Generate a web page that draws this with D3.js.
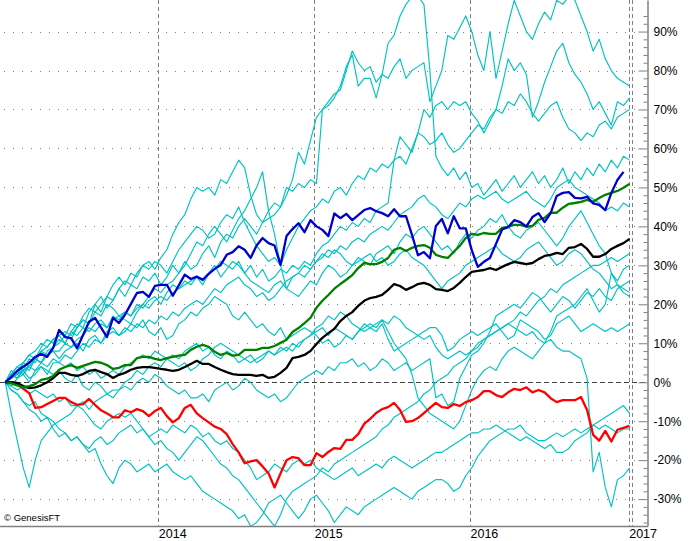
<!DOCTYPE html>
<html><head><meta charset="utf-8">
<script src="https://cdn.jsdelivr.net/npm/d3@7"></script>
<style>body{margin:0;background:#fff;} svg text{font-family:"Liberation Sans",Arial,sans-serif;}</style>
</head><body><svg id="c" width="693" height="541"></svg>
<script>
// ---------- DATA (percent change since start, biweekly samples) ----------
const startDate = new Date(2013, 0, 8);
const yearBounds = [new Date(2013,0,1), new Date(2014,0,1), new Date(2015,0,1), new Date(2016,0,1), new Date(2017,0,1)];
const yearLabels = ["2014","2015","2016","2017"];
const lastDataDate = new Date(2017,0,9);
const yMajorTicks = [-30,-20,-10,0,10,20,30,40,50,60,70,80,90];

const blueSeries = [0,1.3,2.9,4.0,5.0,6.5,7.3,6.5,8.8,13.4, 11.6,11.3,8.7,12.1,15.5,16.5,14.0,11.6,16.5,15.2,
 17.3,20.1,22.9,23.2,21.9,24.7,25.0,25.0,22.2,24.9, 27.6,26.5,27.1,26.3,27.8,29.1,30.1,32.7,33.4,34.9,
 34.0,31.9,35.1,37.0,35.7,35.1,30.1,37.5,39.3,40.8, 38.5,41.6,40.0,39.1,37.5,43.3,42.1,43.2,41.6,42.9,
 44.2,44.7,43.9,43.4,42.6,44.4,42.6,42.6,37.8,32.6, 33.4,31.8,40.1,41.9,38.2,42.6,39.5,39.5,33.9,29.6,
 30.9,31.9,35.5,39.2,39.8,41.6,41.1,40.0,42.4,43.4, 41.1,43.4,47.8,48.6,48.8,47.3,47.2,47.6,45.9,45.5,
 44.2,48.6,51.9,54.0];
const greenSeries = [0,-0.3,-0.8,-1.3,-1.0,-0.5,0.6,0.9,1.6,3.2, 3.9,4.4,3.7,4.2,4.7,5.2,5.0,4.4,3.4,3.7,
 4.4,4.4,6.2,6.5,6.5,6.0,5.7,6.2,6.5,6.8, 7.0,8.3,9.1,9.6,9.1,7.8,7.0,7.5,6.8,7.0,
 8.3,8.3,8.3,8.8,8.8,9.3,10.1,10.9,12.9,13.9, 15.2,16.5,19.1,20.9,22.4,24.0,25.2,26.3,27.5,29.3,
 30.6,30.3,30.3,30.9,31.9,34.0,34.5,33.7,34.5,35.0, 35.2,34.5,32.7,32.2,31.9,33.5,35.0,37.0,38.1,37.8,
 38.3,38.1,38.1,39.6,39.9,40.4,40.4,39.9,40.1,41.7, 42.2,43.5,43.5,44.8,45.8,46.0,46.3,46.8,46.3,47.3,
 48.1,48.6,49.1,49.9,50.9];
const blackSeries = [0,0,-0.2,-1.0,-1.5,-1.3,-0.8,0,1.1,2.4, 2.4,1.9,1.6,2.1,2.9,3.2,2.6,2.1,1.1,1.9,
 2.4,3.2,3.7,3.9,3.9,3.7,3.4,3.2,2.9,3.2, 3.9,4.7,5.5,4.7,4.7,3.9,3.2,2.6,2.1,1.9,
 1.9,1.9,1.6,1.9,1.1,1.4,2.4,3.7,6.2,6.5, 7.0,8.0,9.8,11.4,12.6,13.7,15.7,17.0,18.0,19.6,
 20.9,21.6,21.9,22.4,23.7,25.2,24.7,23.7,24.4,25.2, 25.5,25.0,23.9,23.7,23.4,24.2,25.5,27.0,28.3,28.6,
 28.8,29.3,28.8,29.6,30.3,30.9,30.6,30.3,30.6,31.6, 32.4,32.7,33.2,32.9,34.5,34.7,35.5,34.2,32.2,32.2,
 32.9,34.2,35.0,35.7,36.8];
const redSeries = [0,0,-0.3,-1.7,-2.8,-6.6,-6.4,-5.6,-4.8,-4.0, -4.0,-5.1,-5.8,-5.6,-4.3,-5.8,-7.2,-8.0,-9.0,-9.0,
 -7.2,-7.7,-6.9,-7.4,-8.7,-7.4,-6.6,-8.7,-10.3,-9.2, -6.6,-5.8,-8.0,-9.2,-10.3,-11.4,-12.0,-13.3,-15.9,-18.0,
 -20.8,-20.3,-20.0,-21.6,-23.4,-27.0,-23.4,-20.0,-19.2,-19.5, -21.3,-21.3,-18.2,-19.2,-17.9,-16.9,-17.1,-14.8,-14.8,-13.3,
 -10.7,-9.4,-7.9,-6.9,-6.4,-5.3,-7.1,-10.2,-10.0,-9.2, -7.9,-6.6,-5.3,-6.4,-6.6,-5.6,-6.1,-5.1,-4.6,-3.8,
 -2.3,-2.3,-3.3,-3.8,-2.6,-1.7,-2.0,-1.3,-2.6,-2.0, -2.6,-4.1,-5.1,-4.6,-4.6,-4.6,-3.8,-7.1,-13.5,-15.0,
 -12.5,-15.2,-12.2,-11.7,-11.2];

const cyan1 = [0,1,3,2,5,6,5,8,9,10, 12,11,14,16,15,20,18,22,25,27, 25,28,27,30,31,29,32,34,38,41,
 43,47,50,49,50,48,52,51,54,57, 55,48,43,41,42,43,45,48,52,59, 56,62,68,70,71,73,76,81,84,76,
 78,78,73,79,87,89,94,97,99,99, 97,80,58,55,53,55,52,54,50,51, 48,50,52,49,51,53,50,52,54,51,
 53,50,52,55,51,54,52,55,53,56, 54,57,55,58,57];
const cyan2 = [0,2,1,4,3,6,8,7,9,11, 10,13,15,14,18,20,22,19,21,24, 22,25,24,27,26,28,25,27,30,28,
 31,29,30,33,35,32,36,38,37,40, 42,40,38,41,44,46,45,50,49,51, 50,52,51,70,72,74,75,80,85,82,
 80,81,77,79,78,81,83,78,80,81, 82,72,76,80,89,88,91,94,90,84, 80,90,78,85,92,98,94,90,88,92,
 95,93,98,97,99,98,94,90,85,88, 83,80,78,77,76];
const cyan3 = [0,2,4,3,6,5,8,9,11,12, 10,13,12,14,13,15,16,14,17,16, 18,17,20,19,21,22,20,23,25,24,
 26,25,27,26,28,30,27,29,31,30, 28,30,27,29,26,27,29,28,30,29, 31,30,33,35,36,38,40,39,41,40,
 42,41,44,45,46,57,63,61,59,64, 70,68,71,72,70,72,71,72,69,67, 64,67,70,76,83,80,82,79,68,72,
 77,81,85,87,82,79,77,74,70,72, 69,66,72,71,73];
const cyan4 = [0,3,2,5,7,6,9,11,10,13, 12,15,14,17,19,18,20,22,21,24, 26,25,28,30,29,31,30,28,31,34,
 36,38,40,39,37,38,41,43,42,45, 41,38,35,33,31,32,30,34,37,40, 42,44,45,47,46,49,50,48,51,53,
 52,55,54,56,55,57,58,56,60,64, 63,61,62,64,61,59,60,62,64,66, 65,68,70,69,72,71,74,72,69,67,
 69,71,72,68,65,64,62,64,63,66, 67,65,68,69,70];
const cyan5 = [0,-1,1,2,0,3,4,2,5,5, 7,6,8,10,9,11,10,12,13,12, 14,13,15,14,16,15,17,16,18,17,
 19,20,21,20,22,24,23,25,26,27, 25,24,22,23,21,22,24,26,27,28, 30,29,31,32,34,33,35,34,36,37,
 36,38,39,40,39,41,43,44,45,47, 48,46,45,43,42,44,46,45,47,48, 47,48,49,47,46,47,48,49,47,46,
 45,47,50,51,52,50,49,48,47,46, 44,45,44,46,45];
const cyan6 = [0,2,1,3,4,6,5,7,8,8, 10,9,11,12,14,13,15,14,16,17, 18,17,19,20,19,21,22,21,23,24,
 25,26,27,25,28,29,31,30,29,31, 28,26,25,24,23,25,26,24,27,28, 27,29,31,33,32,34,33,31,30,32,
 31,30,33,34,35,33,36,38,37,39, 40,38,36,34,35,33,36,38,37,39, 40,42,41,43,40,38,37,39,40,41,
 39,37,35,37,40,42,44,41,38,35, 33,28,26,29,30];
const cyan7 = [0,-1,-2,-1,-3,-2,-3,-4,-3,-5, -4,-6,-6,-5,-7,-5,-4,-3,-4,-2, -1,-2,0,1,0,2,1,-1,-2,-3,
 -2,-4,-4,-3,-5,-2,-1,0,-2,-1, 1,0,-2,-3,-4,-3,-5,-4,-2,0, 1,2,3,2,4,3,5,5,6,4,
 5,3,4,6,5,3,4,5,3,4, 5,6,-4,-3,-6,-5,1,4,7,8, 10,13,17,18,19,20,19,21,23,22,
 20,18,20,22,21,19,21,23,22,24, 22,21,24,25,26];
const cyan8 = [0,1,2,3,1,2,4,3,2,3, 1,0,2,-1,-2,0,-1,-3,-2,-2, 0,1,3,2,4,5,4,6,7,6,
 8,9,10,8,9,7,6,8,7,5, 6,7,5,6,8,7,9,8,10,9, 11,12,13,14,12,14,13,12,11,13,
 14,15,14,16,13,10,8,6,2,-4, -6,-8,-9,-10,-11,-12,-10,-6,-2,1, 3,4,3,6,8,9,8,7,6,8,
 10,13,17,18,19,20,22,24,21,18, 20,28,25,23,22];
const cyan9 = [0,2,3,5,4,6,5,7,8,6, 8,9,10,8,11,12,10,13,14,12, 13,15,14,16,13,12,14,11,12,15,
 16,18,17,19,20,22,21,20,17,16, 18,16,14,15,13,12,14,11,12,13, 14,13,12,10,11,9,10,12,11,13,
 15,14,13,15,11,8,9,10,11,12, 13,14,14,12,8,9,11,12,13,12, 13,14,15,13,11,12,16,15,14,13,
 11,12,15,16,17,15,13,14,15,14, 13,14,13,14,15];
const cyan10 = [0,-2,-3,-5,-7,-8,-10,-9,-12,-14, -13,-15,-14,-16,-17,-15,-14,-16,-15,-13, -12,-11,-13,-12,-14,-13,-12,-13,-11,-12,
 -13,-11,-12,-14,-13,-15,-16,-15,-17,-18, -20,-22,-25,-24,-23,-21,-22,-23,-21,-20, -21,-20,-22,-23,-24,-25,-24,-23,-22,-24,
 -23,-22,-21,-22,-20,-19,-20,-21,-22,-21, -20,-19,-18,-18,-17,-16,-15,-14,-13,-13, -12,-12,-11,-12,-13,-14,-15,-14,-15,-16,
 -17,-16,-18,-18,-17,-15,-14,-13,-11,-10, -9,-8,-7,-6,-8];
const cyan11 = [0,-2,-3,-5,-6,-5,-8,-9,-10,-12, -13,-15,-14,-16,-18,-17,-21,-24,-26,-22, -20,-21,-23,-22,-21,-23,-22,-21,-23,-24,
 -25,-24,-26,-28,-29,-30,-31,-32,-33,-35, -34,-37,-36,-34,-31,-30,-29,-31,-33,-35, -33,-30,-29,-31,-33,-36,-34,-32,-33,-34,
 -32,-31,-30,-29,-28,-27,-28,-29,-30,-28, -27,-26,-25,-25,-26,-28,-27,-24,-22,-19, -17,-15,-14,-13,-12,-12,-11,-13,-14,-15,
 -15,-14,-13,-14,-13,-12,-13,-12,-11,-12, -11,-12,-13,-12,-12];
const cyan12 = [0,1,3,2,4,3,5,4,6,5, 4,5,3,4,2,3,1,2,3,2, 4,5,6,7,6,8,7,6,5,4,
 5,3,4,6,7,9,10,9,8,7, 6,5,6,7,8,7,8,9,8,10, 11,12,14,15,17,16,18,17,15,14,
 13,14,15,16,15,17,16,14,13,12, 11,12,9,7,6,7,8,7,8,10, 11,12,13,14,15,14,13,12,13,11,
 10,11,9,8,8,7,6,1,-23,-18, -27,-32,-25,-24,-22];
const cyan13 = [0,2,4,5,7,8,10,9,11,12, 13,12,14,16,15,18,17,20,19,17, 16,15,18,20,22,24,23,25,26,28,
 30,33,36,35,38,40,38,36,39,42, 44,47,50,54,44,38,30,24,23,22, 24,26,25,28,30,29,27,28,30,31,
 32,33,31,32,30,31,33,34,32,31, 30,28,26,24,26,27,28,30,31,32, 33,34,35,33,32,31,32,34,35,36,
 34,32,30,31,33,34,33,31,29,28, 26,24,25,24,23];
const cyan14 = [0,-8,-15,-22,-27,-20,-15,-13,-11,-10, -9,-8,-6,-7,-9,-11,-12,-10,-9,-8, -9,-8,-10,-12,-14,-16,-15,-17,-18,-20,
 -18,-16,-14,-15,-17,-19,-21,-22,-24,-25, -27,-29,-31,-33,-35,-37,-34,-30,-28,-27, -26,-25,-24,-22,-23,-21,-20,-19,-18,-17,
 -16,-15,-14,-12,-11,-9,-8,-7,-6,-5, -3,-2,0,1,2,4,5,6,8,9, 11,12,13,14,15,16,18,17,19,21,
 22,24,23,25,26,27,28,29,30,30, 31,32,31,32,33];

const cyanList = [cyan1,cyan2,cyan3,cyan4,cyan5,cyan6,cyan7,cyan8,cyan9,cyan10,cyan11,cyan12,cyan13,cyan14];
const mainList = [
  {values: redSeries, color: "#FF0000"},
  {values: blackSeries, color: "#000000"},
  {values: greenSeries, color: "#008000"},
  {values: blueSeries, color: "#0000CC"}
];

// ---------- CHART ----------
const dates = d3.range(105).map(i => d3.timeDay.offset(startDate, 14 * i));
const svg = d3.select("#c");
const axisX = 647, axisY = 526;

const x = d3.scaleTime().domain(yearBounds).range([2.3, 158.3, 314.3, 470, 628.7]);
const y = d3.scaleLinear().domain([-36.9, 98.1]).range([axisY, 0]);

svg.append("rect").attr("width",693).attr("height",541).attr("fill","#fff");
svg.append("clipPath").attr("id","clip").append("rect").attr("x",0).attr("y",0).attr("width",axisX).attr("height",axisY);

// horizontal dotted grid
svg.append("g").selectAll("line").data(yMajorTicks.filter(d => d !== 0)).join("line")
  .attr("x1", 4).attr("x2", axisX - 9)
  .attr("y1", d => Math.round(y(d)) + 0.5).attr("y2", d => Math.round(y(d)) + 0.5)
  .attr("stroke", "#808080").attr("stroke-width", 1).attr("stroke-dasharray", "1,8");

// vertical dashed year lines
const vLines = yearBounds.slice(1).concat([lastDataDate]);
svg.append("g").selectAll("line").data(vLines).join("line")
  .attr("x1", d => Math.round(x(d)) + 0.5).attr("x2", d => Math.round(x(d)) + 0.5)
  .attr("y1", 0).attr("y2", axisY)
  .attr("stroke", "#808080").attr("stroke-width", 1).attr("stroke-dasharray", "4,3");

// zero line
svg.append("line").attr("x1", 0).attr("x2", axisX).attr("y1", Math.round(y(0)) + 0.5).attr("y2", Math.round(y(0)) + 0.5)
  .attr("stroke", "#404040").attr("stroke-width", 1).attr("stroke-dasharray", "5,3");

const line = d3.line().x((d, i) => x(dates[i])).y(d => y(d));
const plot = svg.append("g").attr("clip-path", "url(#clip)");
plot.selectAll("path.cy").data(cyanList).join("path").attr("class","cy")
  .attr("d", d => line(d)).attr("fill", "none").attr("stroke", "#00C2C2").attr("stroke-width", 1.15)
  .attr("stroke-linejoin","round");
plot.selectAll("path.mn").data(mainList).join("path").attr("class","mn")
  .attr("d", d => line(d.values)).attr("fill", "none").attr("stroke", d => d.color).attr("stroke-width", 2.3)
  .attr("stroke-linejoin","round");

// right axis
const minorTicks = d3.range(-36, 95, 2).filter(v => v % 10 !== 0);
svg.append("g").attr("transform", `translate(${axisX + 0.5},0)`)
  .call(d3.axisRight(y).tickValues(minorTicks).tickSizeInner(-4).tickSizeOuter(0).tickFormat(""))
  .call(g => g.select(".domain").remove())
  .call(g => g.selectAll("line").attr("stroke", "#808080"));
svg.append("g").attr("transform", `translate(${axisX + 0.5},0)`)
  .call(d3.axisRight(y).tickValues(yMajorTicks).tickSizeInner(-9).tickSizeOuter(0).tickPadding(6).tickFormat(d => d + "%"))
  .call(g => g.select(".domain").attr("stroke", "#808080").attr("stroke-width", 1.5))
  .call(g => g.selectAll("line").attr("stroke", "#808080"))
  .call(g => g.selectAll("text").attr("font-size", 12).attr("fill", "#000").attr("font-family", '"Liberation Sans",Arial,sans-serif'));

// bottom axis
svg.append("line").attr("x1", 0).attr("x2", axisX + 1).attr("y1", axisY + 0.5).attr("y2", axisY + 0.5)
  .attr("stroke", "#808080").attr("stroke-width", 1.5);
svg.append("g").attr("transform", `translate(0,${axisY})`)
  .call(d3.axisBottom(x).tickValues(yearBounds.slice(1)).tickSize(0).tickPadding(3.5).tickFormat((d, i) => yearLabels[i]))
  .call(g => g.select(".domain").remove())
  .call(g => g.selectAll("text").attr("text-anchor", "start").attr("font-size", 12.5).attr("fill", "#000")
    .attr("font-family", '"Liberation Sans",Arial,sans-serif'));

// copyright
svg.append("text").attr("x", 4).attr("y", 521).attr("font-size", 9.5).attr("fill", "#000").text("© GenesisFT");
</script></body></html>
